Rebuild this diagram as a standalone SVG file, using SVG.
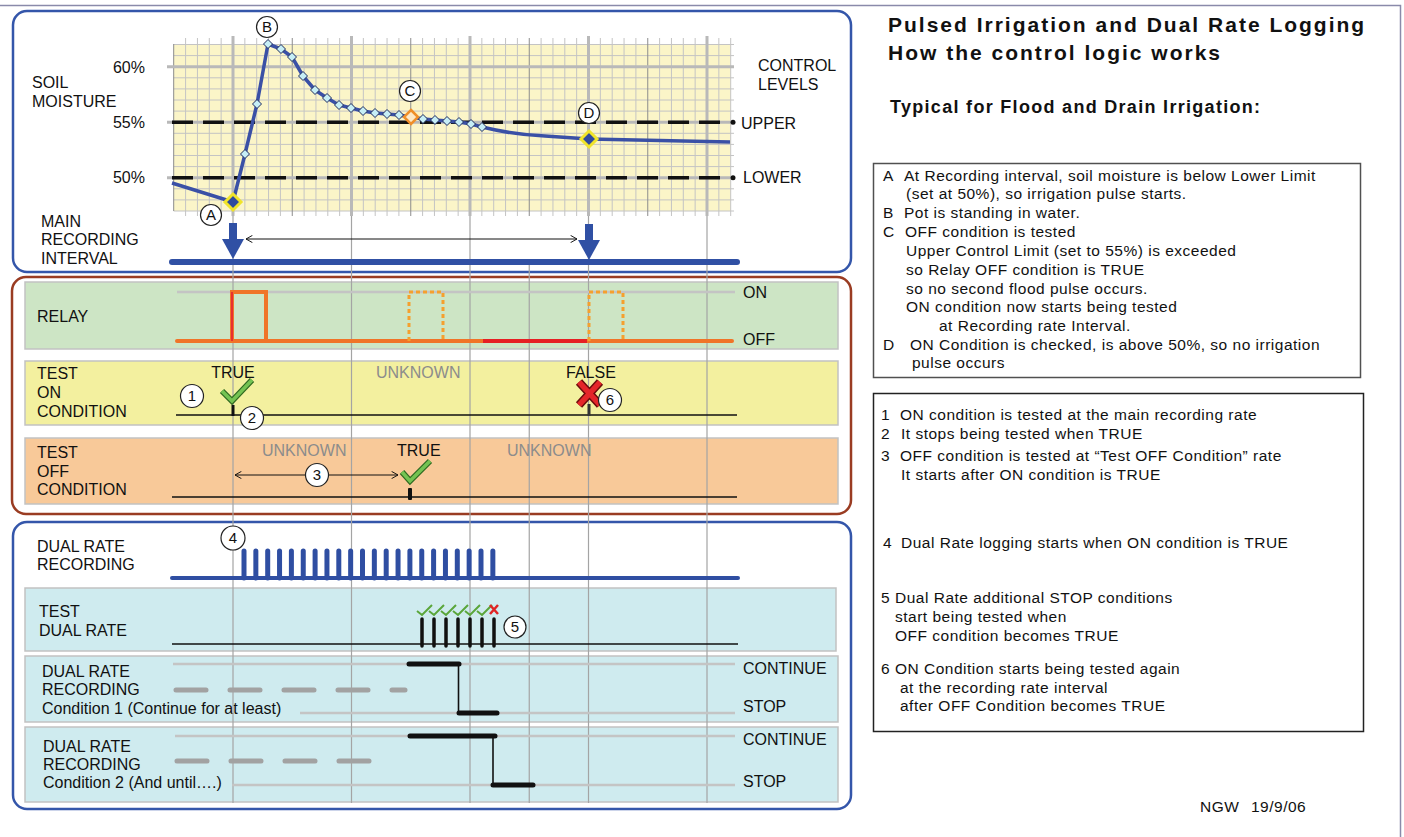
<svg xmlns="http://www.w3.org/2000/svg" width="1404" height="837" viewBox="0 0 1404 837">
<defs>
<style>
text{font-family:"Liberation Sans",Arial,Helvetica,sans-serif;fill:#111}
.l{font-size:16px}
.g{fill:#8c8c8c}
.n{font-size:15.5px;letter-spacing:0.5px}
.t{font-size:21px;font-weight:bold;letter-spacing:2px}
.s{font-size:18px;font-weight:bold;letter-spacing:1.3px}
.c{font-size:15px;text-anchor:middle}
.cir{fill:#fff;stroke:#222;stroke-width:1.2}
.panel{stroke:#c2c2c2;stroke-width:1.5}
.guide{stroke:#a4a4a4;stroke-width:1.2;fill:none}
.thin{stroke:#111;stroke-width:1.3;fill:none}
.blk{stroke:#111;stroke-width:5;stroke-linecap:round;fill:none}
.glvl{stroke:#c4c4c4;stroke-width:2.5;fill:none}
.gdash{stroke:#a2a2a2;stroke-width:5;stroke-linecap:round;stroke-dasharray:30 24;fill:none}
.dm{fill:#c6eef6;stroke:#1d2b5c;stroke-width:1}
.ck1{stroke:#2f6a20;stroke-width:6;fill:none;stroke-linejoin:miter;stroke-linecap:butt}
.ck2{stroke:#74c352;stroke-width:3.5;fill:none;stroke-linejoin:miter}
.sck{stroke:#5aa63a;stroke-width:2;fill:none}
</style>
<marker id="chev" viewBox="0 0 10 10" refX="9" refY="5" markerWidth="8" markerHeight="8" orient="auto-start-reverse" markerUnits="userSpaceOnUse">
<path d="M1,0.5 L9,5 L1,9.5" fill="none" stroke="#111" stroke-width="1.2"/>
</marker>
</defs>
<rect width="1404" height="837" fill="#fff"/>
<path d="M0,5.5 H1400.5 V837" fill="none" stroke="#8a8aaa" stroke-width="1.5"/>

<!-- TOP PANEL -->
<g id="soil-moisture-panel">
<rect x="13" y="11" width="838" height="261" rx="14" fill="#fff" stroke="#3456aa" stroke-width="2.5"/>
<rect x="173.7" y="44.5" width="557" height="166.5" fill="#fbf5c8"/>
<path stroke="#c4c4c4" stroke-width="1" fill="none" d="M185.6,38V216M197.45,38V216M209.3,38V216M221.15,38V216M244.85,38V216M256.7,38V216M268.55,38V216M280.4,38V216M304.1,38V216M315.95,38V216M327.8,38V216M339.65,38V216M363.35,38V216M375.2,38V216M387.05,38V216M398.9,38V216M422.6,38V216M434.45,38V216M446.3,38V216M458.15,38V216M481.85,38V216M493.7,38V216M505.55,38V216M517.4,38V216M541.1,38V216M552.95,38V216M564.8,38V216M576.65,38V216M600.35,38V216M612.2,38V216M624.05,38V216M635.9,38V216M659.6,38V216M671.45,38V216M683.3,38V216M695.15,38V216M718.85,38V216M730.7,38V216"/>
<path stroke="#c4c4c4" stroke-width="1" fill="none" d="M173.7,44.5H734M173.7,55.6H734M173.7,77.8H734M173.7,88.9H734M173.7,100H734M173.7,111.1H734M173.7,133.3H734M173.7,144.4H734M173.7,155.5H734M173.7,166.6H734M173.7,188.8H734M173.7,199.9H734M173.7,211H734"/>
<path stroke="#8c8c8c" stroke-width="1" fill="none" d="M292.25,38V216M410.75,38V216M529.25,38V216M647.75,38V216M173.7,44V211"/>
<path stroke="#b9b9b9" stroke-width="3" fill="none" d="M233,36V216M351.5,36V216M470,36V216M588.5,36V216M707,36V216M167,66.7H734M167,122.2H734M167,177.7H734"/>
<path stroke="#111" stroke-width="3.5" fill="none" stroke-dasharray="21 10" d="M172,122.2H728M172,177.7H728"/>
<circle cx="733" cy="122.2" r="2.5" fill="#111"/>
<circle cx="733" cy="177.7" r="2.5" fill="#111"/>
<path fill="none" stroke="#3a50a6" stroke-width="3.5" stroke-linejoin="round" d="M172,183 L233,202 L245,154 L257,104 L268,44 L281,49 L292,57 L303,76 L315,90 L327,98 L339,105 L351,108 L363,111 L375,113 L387,114 L399,115 L411,117 L423,119 L435,120 L447,121 L459,122 L471,124 L482,127 Q515,135 545,136 L589,139 L730,142"/>
<g>
<path class="dm" d="M245,149.5l4.5,4.5l-4.5,4.5l-4.5,-4.5z"/>
<path class="dm" d="M257,99.5l4.5,4.5l-4.5,4.5l-4.5,-4.5z"/>
<path class="dm" d="M268,39.5l4.5,4.5l-4.5,4.5l-4.5,-4.5z"/>
<path class="dm" d="M281,44.5l4.5,4.5l-4.5,4.5l-4.5,-4.5z"/>
<path class="dm" d="M292,52.5l4.5,4.5l-4.5,4.5l-4.5,-4.5z"/>
<path class="dm" d="M303,71.5l4.5,4.5l-4.5,4.5l-4.5,-4.5z"/>
<path class="dm" d="M315,85.5l4.5,4.5l-4.5,4.5l-4.5,-4.5z"/>
<path class="dm" d="M327,93.5l4.5,4.5l-4.5,4.5l-4.5,-4.5z"/>
<path class="dm" d="M339,100.5l4.5,4.5l-4.5,4.5l-4.5,-4.5z"/>
<path class="dm" d="M351,103.5l4.5,4.5l-4.5,4.5l-4.5,-4.5z"/>
<path class="dm" d="M363,106.5l4.5,4.5l-4.5,4.5l-4.5,-4.5z"/>
<path class="dm" d="M375,108.5l4.5,4.5l-4.5,4.5l-4.5,-4.5z"/>
<path class="dm" d="M387,109.5l4.5,4.5l-4.5,4.5l-4.5,-4.5z"/>
<path class="dm" d="M399,110.5l4.5,4.5l-4.5,4.5l-4.5,-4.5z"/>
<path class="dm" d="M423,114.5l4.5,4.5l-4.5,4.5l-4.5,-4.5z"/>
<path class="dm" d="M435,115.5l4.5,4.5l-4.5,4.5l-4.5,-4.5z"/>
<path class="dm" d="M447,116.5l4.5,4.5l-4.5,4.5l-4.5,-4.5z"/>
<path class="dm" d="M459,117.5l4.5,4.5l-4.5,4.5l-4.5,-4.5z"/>
<path class="dm" d="M471,119.5l4.5,4.5l-4.5,4.5l-4.5,-4.5z"/>
<path class="dm" d="M482,122.5l4.5,4.5l-4.5,4.5l-4.5,-4.5z"/>
</g>
<path d="M233,194l8,8l-8,8l-8,-8z" fill="#2f4a9e" stroke="#f0e42a" stroke-width="3"/>
<path d="M589,131l8,8l-8,8l-8,-8z" fill="#2f4a9e" stroke="#f0e42a" stroke-width="3"/>
<path d="M411,110l7,7l-7,7l-7,-7z" fill="#fde9c8" stroke="#ef8f2a" stroke-width="2.5"/>
<circle class="cir" cx="267" cy="27" r="10.5"/><text class="c" x="267" y="32">B</text>
<circle class="cir" cx="410" cy="91" r="10.5"/><text class="c" x="410" y="96">C</text>
<circle class="cir" cx="589" cy="113" r="10.5"/><text class="c" x="589" y="118">D</text>
<circle class="cir" cx="211" cy="215" r="10.5"/><text class="c" x="211" y="220">A</text>
<text class="l" x="145" y="73" text-anchor="end">60%</text>
<text class="l" x="145" y="128" text-anchor="end">55%</text>
<text class="l" x="145" y="183" text-anchor="end">50%</text>
<text class="l" x="32" y="88">SOIL</text>
<text class="l" x="32" y="107">MOISTURE</text>
<text class="l" x="758" y="71">CONTROL</text>
<text class="l" x="758" y="90">LEVELS</text>
<text class="l" x="741" y="129">UPPER</text>
<text class="l" x="743" y="183">LOWER</text>
<text class="l" x="41" y="227">MAIN</text>
<text class="l" x="41" y="245">RECORDING</text>
<text class="l" x="41" y="264">INTERVAL</text>
</g>

<!-- MIDDLE PANEL -->
<g id="relay-test-panel">
<rect x="12" y="277" width="839" height="237" rx="14" fill="#fff" stroke="#9a3c22" stroke-width="2.5"/>
<rect class="panel" x="25" y="282" width="813" height="67" fill="#cde5c5"/>
<rect class="panel" x="25" y="361" width="813" height="64" fill="#f3f09f"/>
<rect class="panel" x="25" y="438" width="813" height="66" fill="#f8c999"/>
<text class="l" x="37" y="322">RELAY</text>
<text class="l" x="37" y="379">TEST</text>
<text class="l" x="37" y="398">ON</text>
<text class="l" x="37" y="417">CONDITION</text>
<text class="l" x="37" y="458">TEST</text>
<text class="l" x="37" y="477">OFF</text>
<text class="l" x="37" y="495">CONDITION</text>
<text class="l" x="743" y="298">ON</text>
<text class="l" x="743" y="345">OFF</text>
</g>

<!-- BOTTOM PANEL -->
<g id="dual-rate-panel">
<rect x="13" y="522" width="838" height="287" rx="14" fill="#fff" stroke="#3456aa" stroke-width="2.5"/>
<rect class="panel" x="25" y="588" width="811" height="63" fill="#cfebef"/>
<rect class="panel" x="25" y="656" width="813" height="66" fill="#cfebef"/>
<rect class="panel" x="25" y="727" width="813" height="75" fill="#cfebef"/>
<text class="l" x="37" y="552">DUAL RATE</text>
<text class="l" x="37" y="570">RECORDING</text>
<text class="l" x="39" y="617">TEST</text>
<text class="l" x="39" y="636">DUAL RATE</text>
<text class="l" x="42" y="677">DUAL RATE</text>
<text class="l" x="42" y="695">RECORDING</text>
<text class="l" x="42" y="714">Condition 1 (Continue for at least)</text>
<text class="l" x="43" y="752">DUAL RATE</text>
<text class="l" x="43" y="770">RECORDING</text>
<text class="l" x="43" y="788">Condition 2 (And until….)</text>
<text class="l" x="743" y="674">CONTINUE</text>
<text class="l" x="743" y="712">STOP</text>
<text class="l" x="743" y="745">CONTINUE</text>
<text class="l" x="743" y="787">STOP</text>
</g>

<!-- CONNECTORS / TIMELINES -->
<g id="connectors">
<path class="guide" d="M233,216V803M351.5,216V803M470,216V803M529.25,264V803M588.5,216V803M707,216V803"/>
<!-- main recording interval -->
<path d="M172,262H737" stroke="#3050a4" stroke-width="6" stroke-linecap="round"/>
<rect x="229" y="223" width="8" height="18" fill="#3050a4"/>
<path d="M222,239H244L233,259Z" fill="#3050a4"/>
<rect x="585" y="224" width="8" height="18" fill="#3050a4"/>
<path d="M578,240H600L589,260Z" fill="#3050a4"/>
<path d="M246,239H577" stroke="#111" stroke-width="1" marker-start="url(#chev)" marker-end="url(#chev)"/>
<!-- relay -->
<path d="M177,292H735" stroke="#c4c4c4" stroke-width="2.5"/>
<path d="M177,341H732" stroke="#f07428" stroke-width="4" stroke-linecap="round"/>
<path d="M483,341H587" stroke="#e61f24" stroke-width="4"/>
<path d="M232,341V292H266V341" stroke="#f07428" stroke-width="4" fill="none"/>
<path d="M232,341V292" stroke="#e83030" stroke-width="2"/>
<path d="M409,341V292H443V341M589,341V292H623V341" stroke="#f5a02e" stroke-width="3" stroke-dasharray="4 3" fill="none"/>
<!-- test on -->
<path class="thin" d="M176,415H737"/>
<rect x="231.5" y="405" width="3" height="11" fill="#111"/>
<rect x="587.5" y="404" width="3" height="12" fill="#333"/>
<path class="ck1" d="M222,391L232,401L252,380"/>
<path class="ck2" d="M222,391L232,401L252,380"/>
<path d="M579,382L600,405M600,382L579,405" stroke="#6a0c0c" stroke-width="8.5"/>
<path d="M579,382L600,405M600,382L579,405" stroke="#e4262a" stroke-width="5.5"/>
<text class="l" x="233" y="378" text-anchor="middle">TRUE</text>
<text class="l g" x="376" y="378">UNKNOWN</text>
<text class="l" x="566" y="378">FALSE</text>
<circle class="cir" cx="192" cy="396" r="11.5"/><text class="c" x="192" y="401">1</text>
<circle class="cir" cx="252" cy="418" r="11.5"/><text class="c" x="252" y="423">2</text>
<circle class="cir" cx="610" cy="400" r="11.5"/><text class="c" x="610" y="405">6</text>
<!-- test off -->
<path class="thin" d="M172,497H737"/>
<rect x="408" y="488" width="4" height="12" rx="1" fill="#111"/>
<path class="ck1" d="M402,472L410,481L430,461"/>
<path class="ck2" d="M402,472L410,481L430,461"/>
<path d="M235,475H398" stroke="#111" stroke-width="1" marker-start="url(#chev)" marker-end="url(#chev)"/>
<circle class="cir" cx="317" cy="475" r="11.5"/><text class="c" x="317" y="480">3</text>
<text class="l g" x="262" y="456">UNKNOWN</text>
<text class="l" x="397" y="456">TRUE</text>
<text class="l g" x="507" y="456">UNKNOWN</text>
<!-- dual rate recording -->
<path d="M172,578H738" stroke="#2f4ea2" stroke-width="4" stroke-linecap="round"/>
<path stroke="#2f4ea2" stroke-width="5" stroke-linecap="round" fill="none" d="M244,551V578M255.85,551V578M267.7,551V578M279.55,551V578M291.4,551V578M303.25,551V578M315.1,551V578M326.95,551V578M338.8,551V578M350.65,551V578M362.5,551V578M374.35,551V578M386.2,551V578M398.05,551V578M409.9,551V578M421.75,551V578M433.6,551V578M445.45,551V578M457.3,551V578M469.15,551V578M481,551V578M492.85,551V578"/>
<circle cx="233" cy="538" r="12" fill="#fff" stroke="#222" stroke-width="1.2"/><text class="c" x="233" y="543">4</text>
<!-- test dual rate -->
<path class="thin" d="M172,644H738"/>
<path stroke="#111" stroke-width="3.5" stroke-linecap="round" fill="none" d="M422,619V646M434,619V646M446,619V646M458,619V646M470,619V646M482,619V646M494,619V646"/>
<path class="sck" d="M417,611L422,615L432,605M429,611L434,615L444,605M441,611L446,615L456,605M453,611L458,615L468,605M465,611L470,615L480,605M477,611L482,615L492,605"/>
<path d="M490,605L498,614M498,605L490,614" stroke="#e02424" stroke-width="2.5"/>
<circle class="cir" cx="515" cy="627" r="11"/><text class="c" x="515" y="632">5</text>
<!-- condition 1 -->
<path class="glvl" d="M173,664H735M300,713H735"/>
<path class="gdash" d="M176,690H405"/>
<path class="blk" d="M409,664H459"/>
<path d="M458.5,664V713" stroke="#111" stroke-width="1.6"/>
<path class="blk" d="M459,713H497"/>
<!-- condition 2 -->
<path class="glvl" d="M175,736H735M232,785H735"/>
<path class="gdash" d="M177,761H373"/>
<path class="blk" d="M410,736H495"/>
<path d="M493,736V785" stroke="#111" stroke-width="1.6"/>
<path class="blk" d="M493,785H533"/>
</g>

<!-- RIGHT SIDE TEXT -->
<g id="title">
<text class="t" x="888" y="32">Pulsed Irrigation and Dual Rate Logging</text>
<text class="t" x="888" y="60">How the control logic works</text>
<text class="s" x="890" y="113">Typical for Flood and Drain Irrigation:</text>
</g>
<g id="notes-letters">
<rect x="873.5" y="163.5" width="487" height="214" fill="#fff" stroke="#505050" stroke-width="1.5"/>
<text class="n" x="883" y="181">A</text><text class="n" x="904" y="181">At Recording interval, soil moisture is below Lower Limit</text>
<text class="n" x="906" y="199">(set at 50%), so irrigation pulse starts.</text>
<text class="n" x="883" y="218">B</text><text class="n" x="904" y="218">Pot is standing in water.</text>
<text class="n" x="883" y="237">C</text><text class="n" x="905" y="237">OFF condition is tested</text>
<text class="n" x="906" y="256">Upper Control Limit (set to 55%) is exceeded</text>
<text class="n" x="906" y="275">so Relay OFF condition is TRUE</text>
<text class="n" x="906" y="294">so no second flood pulse occurs.</text>
<text class="n" x="906" y="312">ON condition now starts being tested</text>
<text class="n" x="939" y="331">at Recording rate Interval.</text>
<text class="n" x="883" y="350">D</text><text class="n" x="910" y="350">ON Condition is checked, is above 50%, so no irrigation</text>
<text class="n" x="912" y="368">pulse occurs</text>
</g>
<g id="notes-numbers">
<rect x="873.5" y="393.5" width="490" height="338" fill="#fff" stroke="#222" stroke-width="1.5"/>
<text class="n" x="881" y="420">1</text><text class="n" x="900" y="420">ON condition is tested at the main recording rate</text>
<text class="n" x="881" y="439">2</text><text class="n" x="901" y="439">It stops being tested when TRUE</text>
<text class="n" x="881" y="461">3</text><text class="n" x="900" y="461">OFF condition is tested at “Test OFF Condition” rate</text>
<text class="n" x="901" y="480">It starts after ON condition is TRUE</text>
<text class="n" x="883" y="548">4</text><text class="n" x="901" y="548">Dual Rate logging starts when ON condition is TRUE</text>
<text class="n" x="881" y="603">5</text><text class="n" x="895" y="603">Dual Rate additional STOP conditions</text>
<text class="n" x="895" y="622">start being tested when</text>
<text class="n" x="895" y="641">OFF condition becomes TRUE</text>
<text class="n" x="881" y="674">6</text><text class="n" x="895" y="674">ON Condition starts being tested again</text>
<text class="n" x="900" y="693">at the recording rate interval</text>
<text class="n" x="900" y="711">after OFF Condition becomes TRUE</text>
</g>
<g id="signature">
<text class="n" x="1200" y="812">NGW</text><text class="n" x="1251" y="812">19/9/06</text>
</g>
</svg>
